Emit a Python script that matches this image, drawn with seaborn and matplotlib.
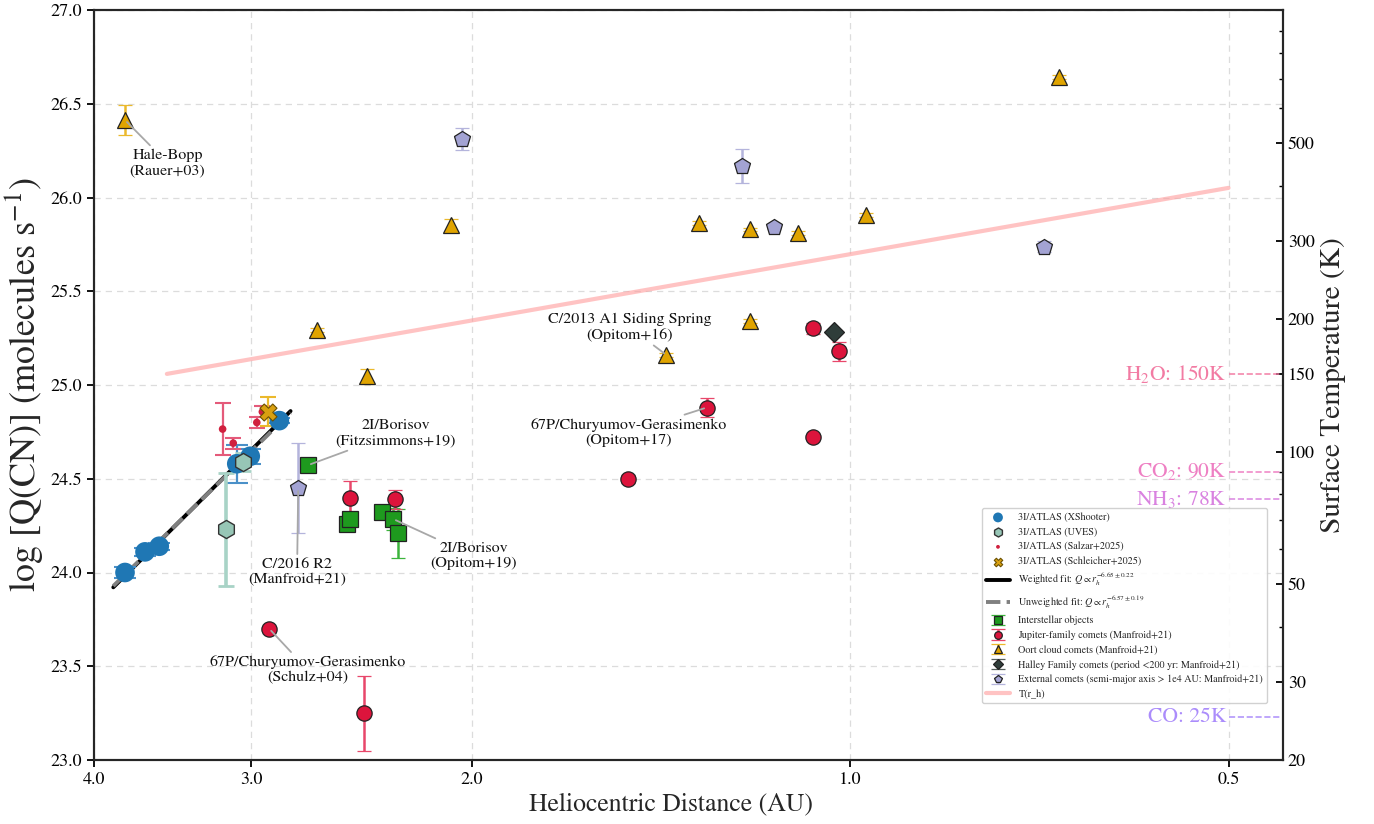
import matplotlib
matplotlib.use("Agg")
import matplotlib.pyplot as plt
import seaborn as sns
import numpy as np
from matplotlib.ticker import FixedLocator, NullLocator, FuncFormatter, LogLocator, NullFormatter

# ---------------- data ----------------
# 3I/ATLAS (XShooter)
xs_r = [3.779, 3.643, 3.549, 3.079, 3.004, 2.848]
xs_q = [24.00, 24.11, 24.14, 24.58, 24.62, 24.81]
xs_e = [0.03, 0.02, 0.02, 0.10, 0.04, 0.015]
# 3I/ATLAS (UVES)
uv_r = [3.142, 3.042]
uv_q = [24.23, 24.59]
uv_e = [0.30, 0.05]
# 3I/ATLAS (Salzar+2025)
sa_r = [3.160, 3.099, 2.968, 2.938]
sa_q = [24.765, 24.69, 24.80, 24.857]
sa_e = [0.14, 0.03, 0.03, 0.03]
# 3I/ATLAS (Schleicher+2025)
sc_r = [2.909]
sc_q = [24.857]
sc_e = [0.077]
# Interstellar objects
is_r = [2.701, 2.515, 2.502, 2.361, 2.311, 2.290]
is_q = [24.573, 24.259, 24.284, 24.324, 24.285, 24.209]
is_e = [0.03, 0.02, 0.02, 0.02, 0.06, 0.13]
# Jupiter-family comets
jf_r = [2.502, 2.302, 2.901, 2.438, 1.504, 1.301, 1.071, 1.071, 1.021]
jf_q = [24.395, 24.39, 23.70, 23.25, 24.50, 24.88, 24.724, 25.302, 25.18]
jf_e = [0.095, 0.05, 0.01, 0.20, 0.02, 0.05, 0.01, 0.03, 0.05]
# Oort cloud comets
oc_r = [3.779, 2.080, 2.658, 2.426, 1.401, 1.3205, 1.201, 1.201, 1.101, 0.971, 0.682]
oc_q = [26.413, 25.853, 25.293, 25.048, 25.16, 25.864, 25.341, 25.83, 25.809, 25.907, 26.643]
oc_e = [0.078, 0.03, 0.01, 0.04, 0.01, 0.01, 0.01, 0.01, 0.01, 0.01, 0.01]
# Halley family comets
hf_r = [1.031]
hf_q = [25.284]
hf_e = [0.01]
# External comets
ex_r = [2.039, 1.220, 1.151, 0.7016, 2.751]
ex_q = [26.312, 26.168, 25.844, 25.738, 24.449]
ex_e = [0.06, 0.09, 0.01, 0.03, 0.24]
# Fits
fit_r = [3.861, 2.790]
fitw_q = [23.921, 24.861]
fitu_q = [23.928, 24.852]
# Temperature curve
t_r = [3.5, 0.5]
t_T = [150, 396]
# Ice sublimation temperatures
ice_names = ["H$_2$O: 150K", "CO$_2$: 90K", "NH$_3$: 78K", "CO: 25K"]
ice_T = [150, 90, 78, 25]
ice_colors = ["#f27ba3", "#ee7fc3", "#d982e0", "#ab8cfb"]

# annotations: (text, point r, point q, text r, text q)
ann = [
    ("Hale-Bopp\n(Rauer+03)", 3.779, 26.413, 3.496, 26.184),
    ("2I/Borisov\n(Fitzsimmons+19)", 2.701, 24.573, 2.302, 24.744),
    ("C/2016 R2\n(Manfroid+21)", 2.751, 24.449, 2.757, 24.004),
    ("2I/Borisov\n(Opitom+19)", 2.311, 24.285, 1.994, 24.088),
    ("67P/Churyumov-Gerasimenko\n(Schulz+04)", 2.901, 23.70, 2.703, 23.48),
    ("C/2013 A1 Siding Spring\n(Opitom+16)", 1.401, 25.16, 1.498, 25.307),
    ("67P/Churyumov-Gerasimenko\n(Opitom+17)", 1.301, 24.88, 1.501, 24.746),
]

x_ticks = [4.0, 3.0, 2.0, 1.0, 0.5]
y_ticks = [23.0, 23.5, 24.0, 24.5, 25.0, 25.5, 26.0, 26.5, 27.0]
t_ticks = [20, 30, 50, 100, 150, 200, 300, 500]

# ---------------- style ----------------
sns.set_theme(style="ticks")
plt.rcParams["font.family"] = ["STIXGeneral", "DejaVu Serif"]
plt.rcParams["mathtext.fontset"] = "stix"
plt.rcParams["axes.linewidth"] = 1.5
plt.rcParams["xtick.major.width"] = 1.3
plt.rcParams["ytick.major.width"] = 1.3
plt.rcParams["xtick.major.size"] = 5
plt.rcParams["ytick.major.size"] = 5

fig = plt.figure(figsize=(13.74, 8.24), dpi=100)
ax = fig.add_axes([94 / 1374, 1 - 760 / 824, (1283 - 94) / 1374, 750 / 824])
ax.set_xscale("log")
ax.set_xlim(4.0, 0.4525)
ax.set_ylim(23.0, 27.0)

ax.grid(True, which="major", linestyle=(0, (5, 4)), color="#dcdcdc", linewidth=0.9)
ax.set_axisbelow(True)

# fits
sns.lineplot(x=fit_r, y=fitw_q, ax=ax, color="black", linewidth=2.8, sort=False, zorder=3)
sns.lineplot(x=fit_r, y=fitu_q, ax=ax, color="#808080", linewidth=2.8, sort=False, zorder=3.1,
             linestyle="--")
l_w = ax.lines[-2]
l_u = ax.lines[-1]

# category errorbars
def cat(r, q, e, marker, face, ecol, ms, label, edge="#222222"):
    return ax.errorbar(r, q, yerr=e, fmt=marker, ms=ms, mfc=face, mec=edge, mew=0.9,
                       ecolor=ecol, elinewidth=1.8, capsize=5, capthick=1.5, label=label, zorder=4)

c_is = cat(is_r, is_q, is_e, "s", "#1e9a1e", "#3cb43c", 11, "Interstellar objects")
c_jf = cat(jf_r, jf_q, jf_e, "o", "#dc143c", "#e8476a", 11, "Jupiter-family comets (Manfroid+21)")
c_oc = cat(oc_r, oc_q, oc_e, "^", "#e0a400", "#ebb92c", 12, "Oort cloud comets (Manfroid+21)")
c_hf = cat(hf_r, hf_q, hf_e, "D", "#2f3d3a", "#555f5c", 10, "Halley Family comets (period <200 yr: Manfroid+21)")
c_ex = cat(ex_r, ex_q, ex_e, "p", "#a3a3d3", "#b4b4dc", 12, "External comets (semi-major axis > 1e4 AU: Manfroid+21)")

# 3I/ATLAS
ax.errorbar(xs_r, xs_q, yerr=xs_e, fmt="none", ecolor="#4a90c8", elinewidth=1.6, capsize=8, capthick=1.5, zorder=4)
ax.errorbar(uv_r, uv_q, yerr=uv_e, fmt="none", ecolor="#a8d3c6", elinewidth=2.6, capsize=6, capthick=2, zorder=4)
ax.errorbar(sa_r, sa_q, yerr=sa_e, fmt="none", ecolor="#e45a7a", elinewidth=1.6, capsize=6, capthick=1.5, zorder=4)
ax.errorbar(sc_r, sc_q, yerr=sc_e, fmt="none", ecolor="#ebb92c", elinewidth=1.6, capsize=6, capthick=1.5, zorder=4)

sns.scatterplot(x=xs_r, y=xs_q, ax=ax, color="#1f77b4", s=200, marker="o", edgecolor="none",
                label="3I/ATLAS (XShooter)", zorder=5)
h_xs = ax.collections[-1]
sns.scatterplot(x=uv_r, y=uv_q, ax=ax, color="#97c6b6", s=170, marker="h", edgecolor="#333333",
                linewidth=1.0, label="3I/ATLAS (UVES)", zorder=5)
h_uv = ax.collections[-1]
sns.scatterplot(x=sa_r, y=sa_q, ax=ax, color="#d0203e", s=30, marker="o", edgecolor="none",
                label="3I/ATLAS (Salzar+2025)", zorder=5)
h_sa = ax.collections[-1]
sns.scatterplot(x=sc_r, y=sc_q, ax=ax, color="#d9a010", s=150, marker="X", edgecolor="#6b5000",
                linewidth=0.8, label="3I/ATLAS (Schleicher+2025)", zorder=5)
h_sc = ax.collections[-1]

l_w.set_label(r"Weighted fit: $Q \propto r_h^{-6.65 \pm 0.22}$")
l_u.set_label(r"Unweighted fit: $Q \propto r_h^{-6.57 \pm 0.19}$")

# annotations
for txt, pr, pq, tr, tq in ann:
    ax.annotate(txt, xy=(pr, pq), xytext=(tr, tq), ha="center", va="center", fontsize=11.5,
                color="#111111", zorder=6,
                arrowprops=dict(arrowstyle="-", color="#a8a8a8", lw=1.3, shrinkA=0, shrinkB=2))

# axes formatting
ax.xaxis.set_major_locator(FixedLocator(x_ticks))
ax.xaxis.set_minor_locator(NullLocator())
ax.xaxis.set_major_formatter(FuncFormatter(lambda v, p: f"{v:.1f}"))
ax.yaxis.set_major_locator(FixedLocator(y_ticks))
ax.yaxis.set_major_formatter(FuncFormatter(lambda v, p: f"{v:.1f}"))
ax.tick_params(labelsize=13, colors="black")
ax.set_xlabel("Heliocentric Distance (AU)", fontsize=18.5)
ax.xaxis.set_label_coords(0.485, -0.043)
ax.set_ylabel(r"log [Q(CN)] (molecules s$^{-1}$)", fontsize=26)
for s in ax.spines.values():
    s.set_visible(True)
    s.set_color("black")

# right axis: temperature
ax2 = ax.twinx()
ax2.set_yscale("log")
ax2.set_ylim(20, 1002)
sns.lineplot(x=t_r, y=t_T, ax=ax2, color="#ff9c9c", alpha=0.6, linewidth=3, sort=False,
             label="T(r_h)", legend=False)
h_t = ax2.lines[-1]
for name, T, col in zip(ice_names, ice_T, ice_colors):
    ax2.plot([0.5, 0.4525], [T, T], linestyle="--", color=col, linewidth=1.2, alpha=0.9)
    ax2.text(0.502, T, name, color=col, fontsize=15.5, ha="right", va="center")
ax2.yaxis.set_major_locator(FixedLocator(t_ticks))
ax2.yaxis.set_major_formatter(FuncFormatter(lambda v, p: f"{v:g}"))
ax2.yaxis.set_minor_locator(LogLocator(base=10, subs=np.arange(2, 10)))
ax2.yaxis.set_minor_formatter(NullFormatter())
ax2.tick_params(axis="y", which="both", direction="in", labelsize=13, colors="black")
ax2.tick_params(axis="y", which="minor", length=3, width=1.0)
ax2.set_ylabel("Surface Temperature (K)", fontsize=21.2)
ax2.set_xlim(4.0, 0.4525)

# legend
handles = [h_xs, h_uv, h_sa, h_sc, l_w, l_u, c_is, c_jf, c_oc, c_hf, c_ex, h_t]
labels = ["3I/ATLAS (XShooter)", "3I/ATLAS (UVES)", "3I/ATLAS (Salzar+2025)", "3I/ATLAS (Schleicher+2025)",
          l_w.get_label(), l_u.get_label(), "Interstellar objects", "Jupiter-family comets (Manfroid+21)",
          "Oort cloud comets (Manfroid+21)", "Halley Family comets (period <200 yr: Manfroid+21)",
          "External comets (semi-major axis > 1e4 AU: Manfroid+21)", "T(r_h)"]
if ax.get_legend() is not None:
    ax.get_legend().remove()
leg = ax2.legend(handles, labels, loc="lower right", bbox_to_anchor=(0.9866, 0.076), borderaxespad=0,
                 fontsize=7.3, markerscale=0.5, labelspacing=0.5, handlelength=2.4, frameon=True,
                 fancybox=True, framealpha=0.9, edgecolor="#cccccc")
leg.set_zorder(10)

fig.savefig("out.png", dpi=100)
